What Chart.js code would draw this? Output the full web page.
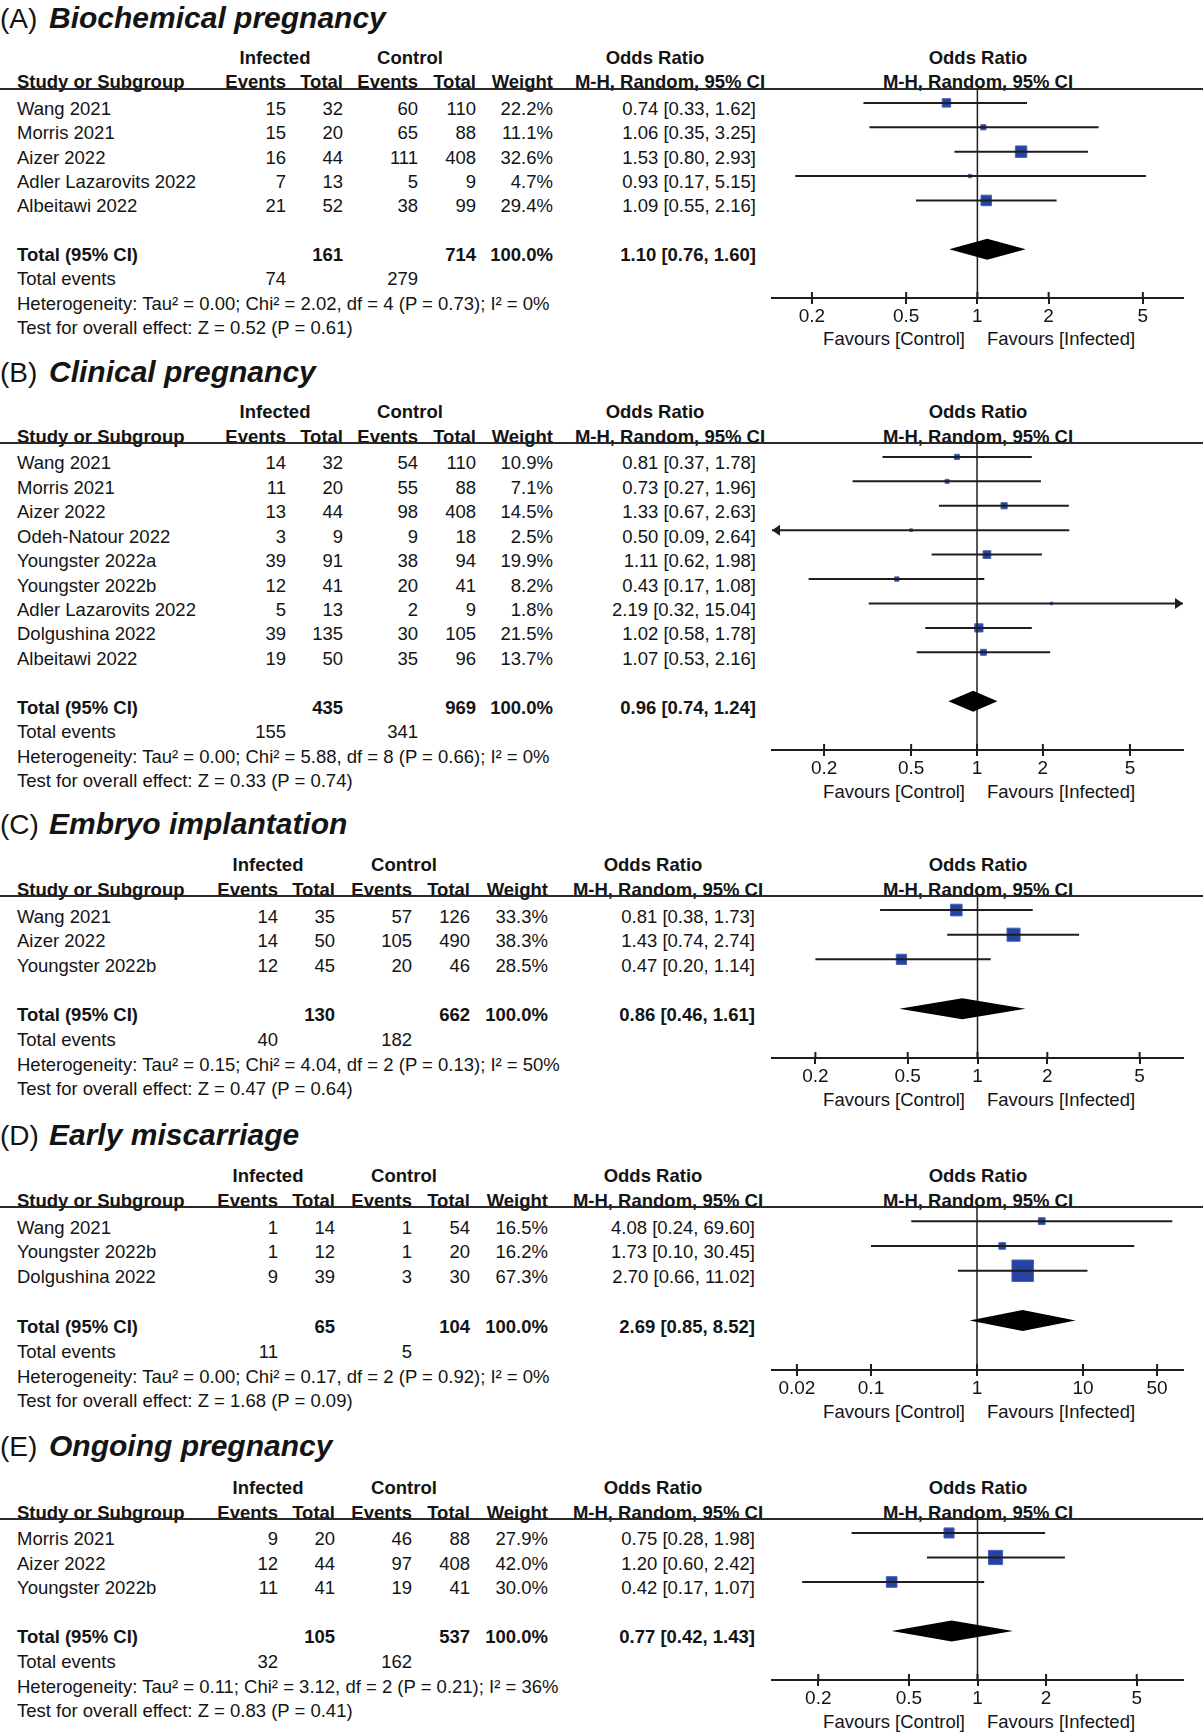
<!DOCTYPE html>
<html>
<head>
<meta charset="utf-8">
<script src="https://cdn.jsdelivr.net/npm/chart.js@4.4.1/dist/chart.umd.min.js"></script>
<style>
  body { margin: 0; background: #fff; }
  #page { position: relative; width: 1203px; height: 1735px; overflow: hidden;
          font-family: "Liberation Sans", Arial, sans-serif; color: #141414; }
  .t { position: absolute; white-space: nowrap; font-size: 18.5px; line-height: 23px; height: 23px; }
  .b { font-weight: bold; }
  .rule { position: absolute; left: 0; width: 1203px; height: 2px; background: #2a2a2a; }
  canvas { position: absolute; }
</style>
</head>
<body>
<div id="page"></div>
<script>
// ---------- (A) Biochemical pregnancy ----------
const studiesA = ['Wang 2021', 'Morris 2021', 'Aizer 2022', 'Adler Lazarovits 2022', 'Albeitawi 2022'];
const infEventsA = [15, 15, 16, 7, 21];
const infTotalA = [32, 20, 44, 13, 52];
const ctrlEventsA = [60, 65, 111, 5, 38];
const ctrlTotalA = [110, 88, 408, 9, 99];
const weightA = [22.2, 11.1, 32.6, 4.7, 29.4];
const orA = [0.74, 1.06, 1.53, 0.93, 1.09];
const lowA = [0.33, 0.35, 0.80, 0.17, 0.55];
const highA = [1.62, 3.25, 2.93, 5.15, 2.16];
const totalsA = [161, 714];
const eventsA = [74, 279];
const pooledA = [1.10, 0.76, 1.60];
const hetA = 'Heterogeneity: Tau² = 0.00; Chi² = 2.02, df = 4 (P = 0.73); I² = 0%';
const testA = 'Test for overall effect: Z = 0.52 (P = 0.61)';
const ticksA = [0.2, 0.5, 1, 2, 5];

// ---------- (B) Clinical pregnancy ----------
const studiesB = ['Wang 2021', 'Morris 2021', 'Aizer 2022', 'Odeh-Natour 2022', 'Youngster 2022a',
                  'Youngster 2022b', 'Adler Lazarovits 2022', 'Dolgushina 2022', 'Albeitawi 2022'];
const infEventsB = [14, 11, 13, 3, 39, 12, 5, 39, 19];
const infTotalB = [32, 20, 44, 9, 91, 41, 13, 135, 50];
const ctrlEventsB = [54, 55, 98, 9, 38, 20, 2, 30, 35];
const ctrlTotalB = [110, 88, 408, 18, 94, 41, 9, 105, 96];
const weightB = [10.9, 7.1, 14.5, 2.5, 19.9, 8.2, 1.8, 21.5, 13.7];
const orB = [0.81, 0.73, 1.33, 0.50, 1.11, 0.43, 2.19, 1.02, 1.07];
const lowB = [0.37, 0.27, 0.67, 0.09, 0.62, 0.17, 0.32, 0.58, 0.53];
const highB = [1.78, 1.96, 2.63, 2.64, 1.98, 1.08, 15.04, 1.78, 2.16];
const totalsB = [435, 969];
const eventsB = [155, 341];
const pooledB = [0.96, 0.74, 1.24];
const hetB = 'Heterogeneity: Tau² = 0.00; Chi² = 5.88, df = 8 (P = 0.66); I² = 0%';
const testB = 'Test for overall effect: Z = 0.33 (P = 0.74)';
const ticksB = [0.2, 0.5, 1, 2, 5];

// ---------- (C) Embryo implantation ----------
const studiesC = ['Wang 2021', 'Aizer 2022', 'Youngster 2022b'];
const infEventsC = [14, 14, 12];
const infTotalC = [35, 50, 45];
const ctrlEventsC = [57, 105, 20];
const ctrlTotalC = [126, 490, 46];
const weightC = [33.3, 38.3, 28.5];
const orC = [0.81, 1.43, 0.47];
const lowC = [0.38, 0.74, 0.20];
const highC = [1.73, 2.74, 1.14];
const totalsC = [130, 662];
const eventsC = [40, 182];
const pooledC = [0.86, 0.46, 1.61];
const hetC = 'Heterogeneity: Tau² = 0.15; Chi² = 4.04, df = 2 (P = 0.13); I² = 50%';
const testC = 'Test for overall effect: Z = 0.47 (P = 0.64)';
const ticksC = [0.2, 0.5, 1, 2, 5];

// ---------- (D) Early miscarriage ----------
const studiesD = ['Wang 2021', 'Youngster 2022b', 'Dolgushina 2022'];
const infEventsD = [1, 1, 9];
const infTotalD = [14, 12, 39];
const ctrlEventsD = [1, 1, 3];
const ctrlTotalD = [54, 20, 30];
const weightD = [16.5, 16.2, 67.3];
const orD = [4.08, 1.73, 2.70];
const lowD = [0.24, 0.10, 0.66];
const highD = [69.60, 30.45, 11.02];
const totalsD = [65, 104];
const eventsD = [11, 5];
const pooledD = [2.69, 0.85, 8.52];
const hetD = 'Heterogeneity: Tau² = 0.00; Chi² = 0.17, df = 2 (P = 0.92); I² = 0%';
const testD = 'Test for overall effect: Z = 1.68 (P = 0.09)';
const ticksD = [0.02, 0.1, 1, 10, 50];

// ---------- (E) Ongoing pregnancy ----------
const studiesE = ['Morris 2021', 'Aizer 2022', 'Youngster 2022b'];
const infEventsE = [9, 12, 11];
const infTotalE = [20, 44, 41];
const ctrlEventsE = [46, 97, 19];
const ctrlTotalE = [88, 408, 41];
const weightE = [27.9, 42.0, 30.0];
const orE = [0.75, 1.20, 0.42];
const lowE = [0.28, 0.60, 0.17];
const highE = [1.98, 2.42, 1.07];
const totalsE = [105, 537];
const eventsE = [32, 162];
const pooledE = [0.77, 0.42, 1.43];
const hetE = 'Heterogeneity: Tau² = 0.11; Chi² = 3.12, df = 2 (P = 0.21); I² = 36%';
const testE = 'Test for overall effect: Z = 0.83 (P = 0.41)';
const ticksE = [0.2, 0.5, 1, 2, 5];

// column layouts (two variants used in the figure)
const COLS_WIDE = { cols: [286, 343, 418, 476, 553], orRight: 756, infC: 275, ctrlC: 410, orHdr: 655, mhHdr: 670 };
const COLS_NARROW = { cols: [278, 335, 412, 470, 548], orRight: 755, infC: 268, ctrlC: 404, orHdr: 653, mhHdr: 668 };

const panels = [
  { tag: '(A)', title: 'Biochemical pregnancy', studies: studiesA, infEvents: infEventsA, infTotal: infTotalA,
    ctrlEvents: ctrlEventsA, ctrlTotal: ctrlTotalA, weight: weightA, or: orA, low: lowA, high: highA,
    totals: totalsA, events: eventsA, pooled: pooledA, het: hetA, test: testA, ticks: ticksA,
    head: 88.5, axis: 297, titleY: 18, min: 0.1356, max: 7.39, L: COLS_WIDE },
  { tag: '(B)', title: 'Clinical pregnancy', studies: studiesB, infEvents: infEventsB, infTotal: infTotalB,
    ctrlEvents: ctrlEventsB, ctrlTotal: ctrlTotalB, weight: weightB, or: orB, low: lowB, high: highB,
    totals: totalsB, events: eventsB, pooled: pooledB, het: hetB, test: testB, ticks: ticksB,
    head: 443, axis: 750, titleY: 372, min: 0.1156, max: 8.74, L: COLS_WIDE },
  { tag: '(C)', title: 'Embryo implantation', studies: studiesC, infEvents: infEventsC, infTotal: infTotalC,
    ctrlEvents: ctrlEventsC, ctrlTotal: ctrlTotalC, weight: weightC, or: orC, low: lowC, high: highC,
    totals: totalsC, events: eventsC, pooled: pooledC, het: hetC, test: testC, ticks: ticksC,
    head: 896, axis: 1058, titleY: 824, min: 0.130, max: 7.69, L: COLS_NARROW },
  { tag: '(D)', title: 'Early miscarriage', studies: studiesD, infEvents: infEventsD, infTotal: infTotalD,
    ctrlEvents: ctrlEventsD, ctrlTotal: ctrlTotalD, weight: weightD, or: orD, low: lowD, high: highD,
    totals: totalsD, events: eventsD, pooled: pooledD, het: hetD, test: testD, ticks: ticksD,
    head: 1207, axis: 1370, titleY: 1135, min: 0.01164, max: 87.8, L: COLS_NARROW },
  { tag: '(E)', title: 'Ongoing pregnancy', studies: studiesE, infEvents: infEventsE, infTotal: infTotalE,
    ctrlEvents: ctrlEventsE, ctrlTotal: ctrlTotalE, weight: weightE, or: orE, low: lowE, high: highE,
    totals: totalsE, events: eventsE, pooled: pooledE, het: hetE, test: testE, ticks: ticksE,
    head: 1519, axis: 1680, titleY: 1446, min: 0.1253, max: 7.98, L: COLS_NARROW }
];

const W = 1203;
const TOP_GAP = 0.57;      // rows between header rule and first study
const page = document.getElementById('page');
const INK = '#1e1e1e';

function addText(x, y, str, opts = {}) {
  const d = document.createElement('div');
  d.className = 't' + (opts.bold ? ' b' : '');
  d.textContent = str;
  const size = opts.size || 18.5;
  const h = Math.round(size * 1.25);
  d.style.fontSize = size + 'px';
  d.style.lineHeight = h + 'px';
  d.style.height = h + 'px';
  if (opts.italic) d.style.fontStyle = 'italic';
  d.style.top = (y - h / 2) + 'px';
  if (opts.align === 'right') {
    d.style.right = (W - x) + 'px';
  } else if (opts.align === 'center') {
    d.style.left = (x - 200) + 'px';
    d.style.width = '400px';
    d.style.textAlign = 'center';
  } else {
    d.style.left = x + 'px';
  }
  page.appendChild(d);
}

const fmtCI = (o, l, h) => `${o.toFixed(2)} [${l.toFixed(2)}, ${h.toFixed(2)}]`;

function drawTable(p) {
  const n = p.studies.length;
  const L = p.L;
  const rowH = (p.axis - p.head) / (n + 3 + TOP_GAP);
  const rowY = i => p.head + (i + TOP_GAP) * rowH + 6;

  // title
  addText(0, p.titleY, p.tag, { size: 28 });
  addText(49, p.titleY, p.title, { size: 30, bold: true, italic: true });

  // header
  const g = p.head - 31.5, c = p.head - 7;
  addText(L.infC, g, 'Infected', { bold: true, align: 'center' });
  addText(L.ctrlC, g, 'Control', { bold: true, align: 'center' });
  addText(L.orHdr, g, 'Odds Ratio', { bold: true, align: 'center' });
  addText(978, g, 'Odds Ratio', { bold: true, align: 'center' });
  addText(17, c, 'Study or Subgroup', { bold: true });
  ['Events', 'Total', 'Events', 'Total', 'Weight'].forEach((s, k) =>
    addText(L.cols[k], c, s, { bold: true, align: 'right' }));
  addText(L.mhHdr, c, 'M-H, Random, 95% CI', { bold: true, align: 'center' });
  addText(978, c, 'M-H, Random, 95% CI', { bold: true, align: 'center' });

  const rule = document.createElement('div');
  rule.className = 'rule';
  rule.style.top = (p.head - 1) + 'px';
  page.appendChild(rule);

  // study rows
  p.studies.forEach((s, i) => {
    const y = rowY(i);
    addText(17, y, s);
    [p.infEvents[i], p.infTotal[i], p.ctrlEvents[i], p.ctrlTotal[i]].forEach((v, k) =>
      addText(L.cols[k], y, String(v), { align: 'right' }));
    addText(L.cols[4], y, p.weight[i].toFixed(1) + '%', { align: 'right' });
    addText(L.orRight, y, fmtCI(p.or[i], p.low[i], p.high[i]), { align: 'right' });
  });

  // totals
  const yt = rowY(n + 1);
  addText(17, yt, 'Total (95% CI)', { bold: true });
  addText(L.cols[1], yt, String(p.totals[0]), { bold: true, align: 'right' });
  addText(L.cols[3], yt, String(p.totals[1]), { bold: true, align: 'right' });
  addText(L.cols[4], yt, '100.0%', { bold: true, align: 'right' });
  addText(L.orRight, yt, fmtCI(p.pooled[0], p.pooled[1], p.pooled[2]), { bold: true, align: 'right' });

  const ye = rowY(n + 2);
  addText(17, ye, 'Total events');
  addText(L.cols[0], ye, String(p.events[0]), { align: 'right' });
  addText(L.cols[2], ye, String(p.events[1]), { align: 'right' });
  addText(17, rowY(n + 3), p.het);
  addText(17, rowY(n + 4), p.test);

  // favours labels
  addText(965, p.axis + 41, 'Favours [Control]', { align: 'right' });
  addText(987, p.axis + 41, 'Favours [Infected]');
}

function drawPlot(p) {
  const n = p.studies.length;
  const axisH = 34;
  const h = Math.round(p.axis - p.head) + axisH;
  const canvas = document.createElement('canvas');
  canvas.width = 443;
  canvas.height = h;
  canvas.style.left = '760px';
  canvas.style.top = p.head + 'px';
  canvas.style.width = '443px';
  canvas.style.height = h + 'px';
  page.appendChild(canvas);

  const datasets = [];
  // line of no effect
  datasets.push({ type: 'line', data: [{ x: 1, y: -TOP_GAP }, { x: 1, y: n + 3 }],
                  borderColor: INK, borderWidth: 1.5, pointRadius: 0 });
  // confidence intervals
  p.studies.forEach((s, i) => {
    datasets.push({ type: 'line', data: [{ x: p.low[i], y: i }, { x: p.high[i], y: i }],
                    borderColor: INK, borderWidth: 2, pointRadius: 0 });
  });
  // point estimates, box size follows the weight
  datasets.push({ type: 'scatter', data: p.or.map((v, i) => ({ x: v, y: i })),
                  pointStyle: 'rect', pointRadius: p.weight.map(w => (2 + 0.29 * w) / Math.SQRT2),
                  backgroundColor: '#2443a3', borderColor: '#4a63b8', borderWidth: 1 });

  const extras = {
    id: 'forestExtras',
    afterDatasetsDraw(chart) {
      const { ctx, chartArea, scales: { x, y } } = chart;
      ctx.save();
      // tick stubs above the axis
      ctx.strokeStyle = INK;
      ctx.lineWidth = 2;
      x.ticks.forEach(t => {
        const px = x.getPixelForValue(t.value);
        ctx.beginPath();
        ctx.moveTo(px, chartArea.bottom);
        ctx.lineTo(px, chartArea.bottom - 6);
        ctx.stroke();
      });
      // arrows for intervals that leave the axis
      ctx.fillStyle = INK;
      p.studies.forEach((s, i) => {
        const py = y.getPixelForValue(i);
        if (p.low[i] < x.min) {
          const tip = chartArea.left;
          ctx.beginPath();
          ctx.moveTo(tip, py); ctx.lineTo(tip + 8, py - 5.5); ctx.lineTo(tip + 8, py + 5.5);
          ctx.closePath(); ctx.fill();
        }
        if (p.high[i] > x.max) {
          const tip = chartArea.right;
          ctx.beginPath();
          ctx.moveTo(tip, py); ctx.lineTo(tip - 8, py - 5.5); ctx.lineTo(tip - 8, py + 5.5);
          ctx.closePath(); ctx.fill();
        }
      });
      // pooled estimate diamond
      const yc = y.getPixelForValue(n + 1);
      const xm = x.getPixelForValue(p.pooled[0]);
      const xl = x.getPixelForValue(p.pooled[1]);
      const xr = x.getPixelForValue(p.pooled[2]);
      ctx.fillStyle = '#000';
      ctx.beginPath();
      ctx.moveTo(xl, yc); ctx.lineTo(xm, yc - 10.5); ctx.lineTo(xr, yc); ctx.lineTo(xm, yc + 10.5);
      ctx.closePath(); ctx.fill();
      ctx.restore();
    }
  };

  new Chart(canvas, {
    type: 'scatter',
    data: { datasets },
    plugins: [extras],
    options: {
      responsive: false,
      animation: false,
      events: [],
      layout: { autoPadding: false, padding: { left: 12, right: 20, top: 0, bottom: 0 } },
      plugins: { legend: { display: false }, tooltip: { enabled: false } },
      scales: {
        x: {
          type: 'logarithmic', position: 'bottom', min: p.min, max: p.max,
          afterBuildTicks: sc => { sc.ticks = p.ticks.map(v => ({ value: v })); },
          afterFit: sc => { sc.height = axisH; },
          ticks: { autoSkip: false, maxRotation: 0, padding: 1, color: '#141414',
                   font: { family: 'Liberation Sans', size: 19 }, callback: v => String(v) },
          grid: { drawOnChartArea: false, drawTicks: true, tickLength: 6, color: INK, lineWidth: 2 },
          border: { display: true, color: INK, width: 2 }
        },
        y: { type: 'linear', display: false, reverse: true, min: -TOP_GAP, max: n + 3 }
      }
    }
  });
}

panels.forEach(p => { drawTable(p); drawPlot(p); });
</script>
</body>
</html>
